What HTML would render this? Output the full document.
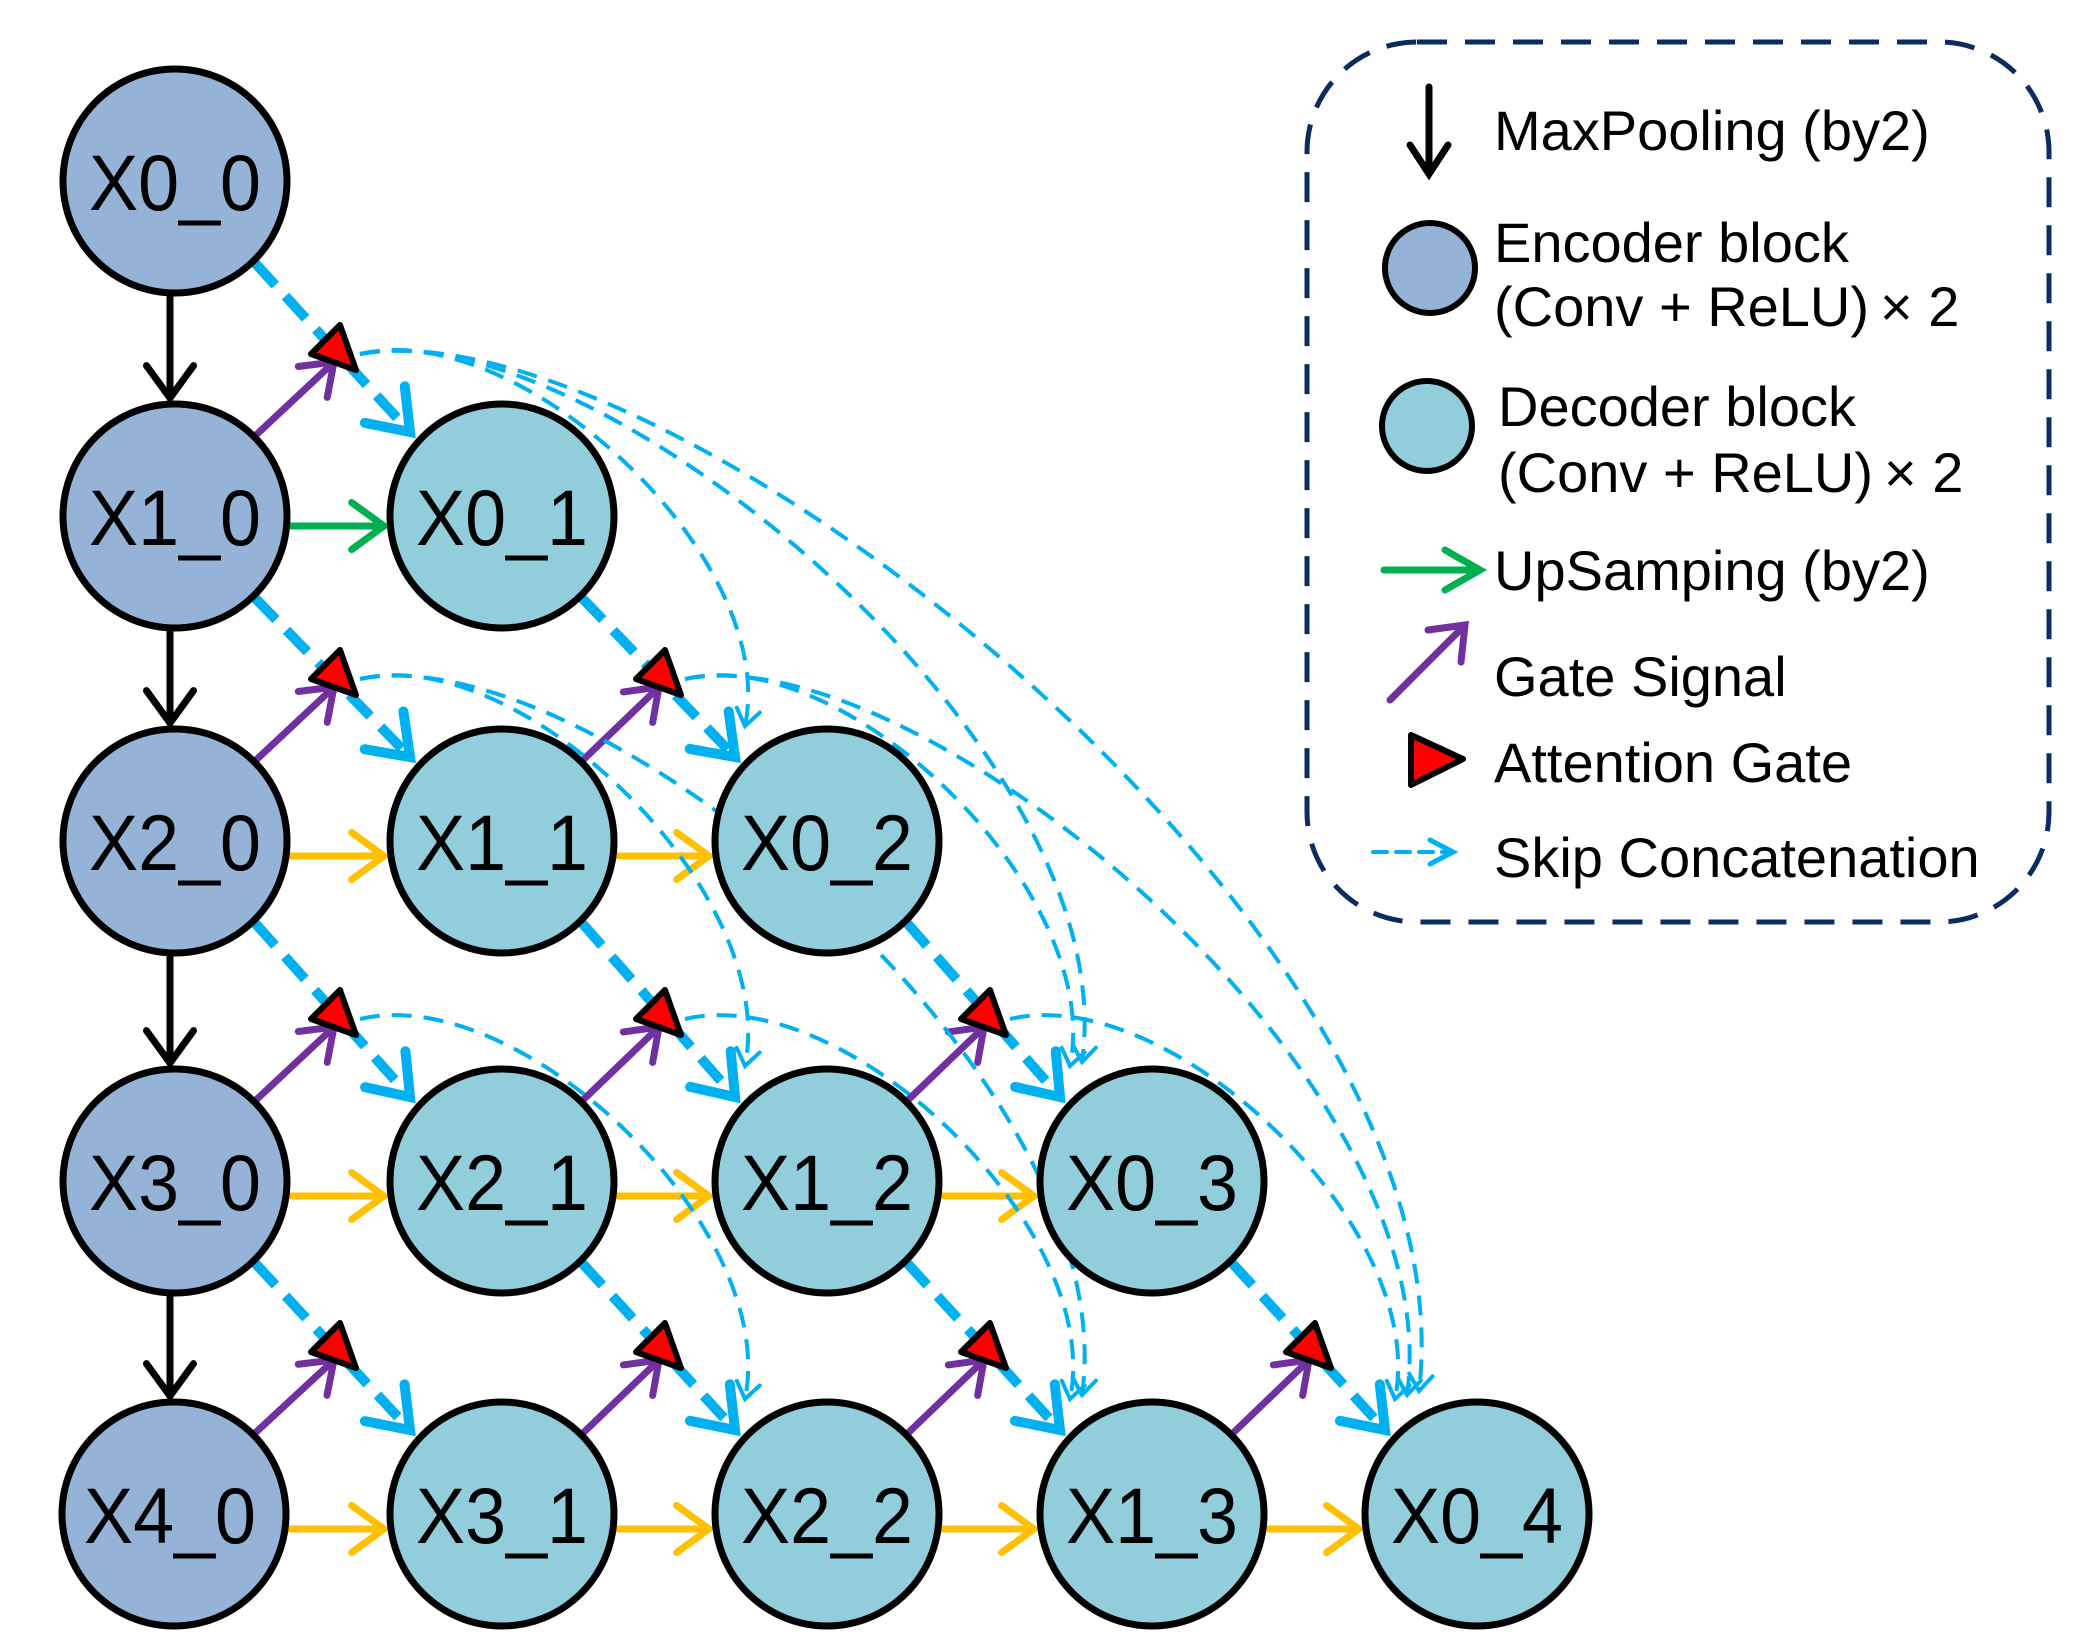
<!DOCTYPE html>
<html><head><meta charset="utf-8"><style>html,body{margin:0;padding:0;background:#fff}svg{display:block}</style></head>
<body>
<svg id="s" width="2089" height="1648" viewBox="0 0 2089 1648" xmlns="http://www.w3.org/2000/svg">
<rect width="2089" height="1648" fill="#fff"/>
<g id="lines"></g>
<g id="nodes"></g>
<g id="labels" font-family="Liberation Sans, sans-serif" font-size="79" fill="#000" text-anchor="middle">
<text x="175" y="210" textLength="172" lengthAdjust="spacingAndGlyphs">X0_0</text>
<text x="175" y="545" textLength="172" lengthAdjust="spacingAndGlyphs">X1_0</text>
<text x="175" y="870" textLength="172" lengthAdjust="spacingAndGlyphs">X2_0</text>
<text x="175" y="1210" textLength="172" lengthAdjust="spacingAndGlyphs">X3_0</text>
<text x="170" y="1543" textLength="172" lengthAdjust="spacingAndGlyphs">X4_0</text>
<text x="502" y="545" textLength="172" lengthAdjust="spacingAndGlyphs">X0_1</text>
<text x="502" y="870" textLength="172" lengthAdjust="spacingAndGlyphs">X1_1</text>
<text x="502" y="1210" textLength="172" lengthAdjust="spacingAndGlyphs">X2_1</text>
<text x="502" y="1543" textLength="172" lengthAdjust="spacingAndGlyphs">X3_1</text>
<text x="827" y="870" textLength="172" lengthAdjust="spacingAndGlyphs">X0_2</text>
<text x="827" y="1210" textLength="172" lengthAdjust="spacingAndGlyphs">X1_2</text>
<text x="827" y="1543" textLength="172" lengthAdjust="spacingAndGlyphs">X2_2</text>
<text x="1152" y="1210" textLength="172" lengthAdjust="spacingAndGlyphs">X0_3</text>
<text x="1152" y="1543" textLength="172" lengthAdjust="spacingAndGlyphs">X1_3</text>
<text x="1477" y="1543" textLength="172" lengthAdjust="spacingAndGlyphs">X0_4</text>
</g>
<!-- legend -->
<rect x="1307" y="42" width="742" height="880" rx="110" ry="110" fill="none" stroke="#0C2B5E" stroke-width="5" stroke-dasharray="30 18"/>
<g stroke-linecap="round" fill="none">
<line x1="1429" y1="87" x2="1429" y2="172" stroke="#000" stroke-width="7"/>
<polyline points="1410,145 1429,174 1448,145" stroke="#000" stroke-width="7"/>
<line x1="1384" y1="570" x2="1478" y2="570" stroke="#00B050" stroke-width="7"/>
<polyline points="1445,550 1480,570 1445,590" stroke="#00B050" stroke-width="7"/>
<line x1="1390" y1="700" x2="1464" y2="626" stroke="#7030A0" stroke-width="7"/>
<polyline points="1428,630 1465,625 1461,662" stroke="#7030A0" stroke-width="7"/>
<line x1="1373" y1="852" x2="1450" y2="852" stroke="#00B0F0" stroke-width="4" stroke-dasharray="14 9"/>
<polyline points="1430,840 1453,852 1430,864" stroke="#00B0F0" stroke-width="5"/>
</g>
<polygon points="1411,735 1411,785 1463,759" fill="#FF0000" stroke="#000" stroke-width="6" stroke-linejoin="round"/>
<circle cx="1430" cy="268" r="45" fill="#95B3D7" stroke="#000" stroke-width="6"/>
<circle cx="1427" cy="426" r="45" fill="#92CDDC" stroke="#000" stroke-width="6"/>
<g font-family="Liberation Sans, sans-serif" font-size="56" fill="#000">
<text x="1494" y="150">MaxPooling (by2)</text>
<text x="1494" y="262">Encoder block</text>
<text x="1494" y="326">(Conv + ReLU)</text>
<text x="1880" y="326">× 2</text>
<text x="1498" y="426">Decoder block</text>
<text x="1498" y="492">(Conv + ReLU)</text>
<text x="1884" y="492">× 2</text>
<text x="1494" y="590">UpSamping (by2)</text>
<text x="1494" y="696">Gate Signal</text>
<text x="1494" y="782">Attention Gate</text>
<text x="1494" y="877">Skip Concatenation</text>
</g>
</svg>
<script>
(function(){
var NS="http://www.w3.org/2000/svg";
var cols=[175,502,827,1152,1477], rows=[181,516,841,1181,1514];
var L=document.getElementById('lines'), N=document.getElementById('nodes');
function el(tag,a,p){var e=document.createElementNS(NS,tag);for(var k in a)e.setAttribute(k,a[k]);(p||L).appendChild(e);return e;}
function pos(i,j){return [cols[j]-(j==0&&i==4?1:0),rows[i+j]];}
function head(x,y,ang,len,col,w){var a1=ang+Math.PI*0.8,a2=ang-Math.PI*0.8;
 el('polyline',{points:(x+len*Math.cos(a1))+','+(y+len*Math.sin(a1))+' '+x+','+y+' '+(x+len*Math.cos(a2))+','+(y+len*Math.sin(a2)),fill:'none',stroke:col,'stroke-width':w,'stroke-linecap':'round','stroke-linejoin':'miter'});}
function arrow(x1,y1,x2,y2,col,w,len,dash){var a={x1:x1,y1:y1,x2:x2,y2:y2,stroke:col,'stroke-width':w,'stroke-linecap':dash?'butt':'round'};if(dash)a['stroke-dasharray']=dash;el('line',a);head(x2,y2,Math.atan2(y2-y1,x2-x1),len,col,w);}
var tris=[];
for(var i=0;i<4;i++){var p=pos(i,0),q=pos(i+1,0);arrow(p[0]-5,p[1]+116,p[0]-5,q[1]-118,'#000',7,40);}
for(var i=0;i<4;i++)for(var j=1;j<=4-i;j++){
 var t=pos(i,j), s=pos(i,j-1), lo=pos(i+1,j-1);
 var hy=t[1]+((i==0&&j==1)?10:15);
 arrow(lo[0]+116,hy,t[0]-118,hy,(i==0&&j==1)?'#00B050':'#FFC000',7,40);
 var tx=t[0]-166, ty=t[1]-166; tris.push([i,j,tx,ty]);
 arrow(s[0]+80,s[1]+82,t[0]-92,t[1]-84,'#00B0F0',10,46,'30 15');
 arrow(lo[0]+80,lo[1]-80,tx-2,ty+12,'#7030A0',7,36);
}
tris.forEach(function(T){var i=T[0],k=T[1],sx=T[2]+24,sy=T[3]+4;
 for(var j=k+1;j<=4-i;j++){var t=pos(i,j),n=j-k;var ex=t[0]-82+(n-1)*12,ey=t[1]-115-(n-1)*4;
  var c1x=sx+90+70*n,c1y=sy-30-8*n;var c2x=ex+25+10*n,c2y=ey-0.45*(ey-sy);
  el('path',{d:'M'+sx+','+sy+' C'+c1x+','+c1y+' '+c2x+','+c2y+' '+ex+','+ey,fill:'none',stroke:'#00B0F0','stroke-width':4,'stroke-dasharray':'20 12'});
  head(ex,ey,Math.atan2(ey-c2y,ex-c2x),20,'#00B0F0',4);
 }});
tris.forEach(function(T){var x=T[2],y=T[3];
 el('polygon',{points:(x+4)+','+(y-25)+' '+(x-25)+','+(y+4)+' '+(x+20)+','+(y+20),fill:'#FF0000',stroke:'#000','stroke-width':6,'stroke-linejoin':'round'});});
for(var i=0;i<=4;i++)for(var j=0;j<=4-i;j++){var p=pos(i,j);
 el('circle',{cx:p[0],cy:p[1],r:112,fill:j==0?'#95B3D7':'#92CDDC',stroke:'#000','stroke-width':7},N);}
})();
</script>
</body></html>
